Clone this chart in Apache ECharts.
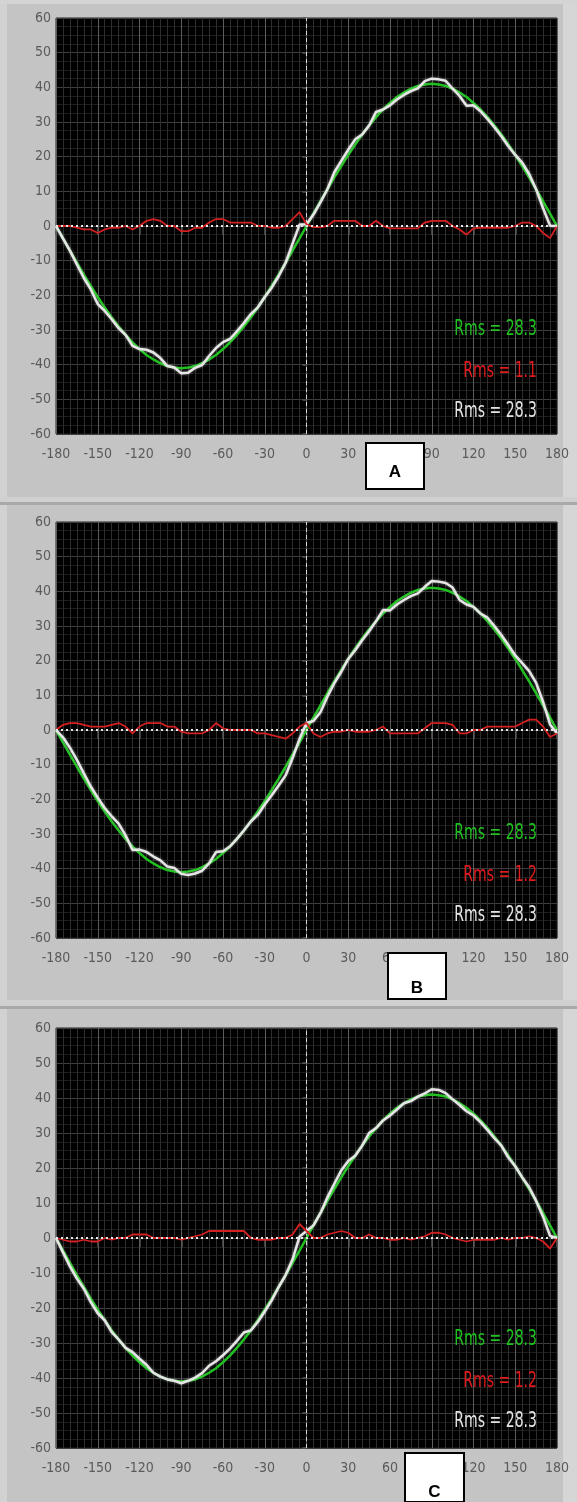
<!DOCTYPE html>
<html><head><meta charset="utf-8">
<script src="https://cdn.jsdelivr.net/npm/echarts@6/dist/echarts.min.js"></script>
<style>html,body{margin:0;padding:0;background:#c6c6c6}#c{width:577px;height:1502px}</style>
</head><body><div id="c"></div>
<script>
// Angle (degrees) sampled every 5°
const degs = [-180,-175,-170,-165,-160,-155,-150,-145,-140,-135,-130,-125,-120,-115,-110,-105,-100,-95,-90,-85,-80,-75,-70,-65,-60,-55,-50,-45,-40,-35,-30,-25,-20,-15,-10,-5,0,5,10,15,20,25,30,35,40,45,50,55,60,65,70,75,80,85,90,95,100,105,110,115,120,125,130,135,140,145,150,155,160,165,170,175,180];
// Reference (green) curve
const green = [0,-3.6,-7.1,-10.6,-14.0,-17.3,-20.5,-23.5,-26.4,-29.0,-31.4,-33.6,-35.5,-37.2,-38.5,-39.6,-40.4,-40.8,-41.0,-40.8,-40.4,-39.6,-38.5,-37.2,-35.5,-33.6,-31.4,-29.0,-26.4,-23.5,-20.5,-17.3,-14.0,-10.6,-7.1,-3.6,0,3.6,7.1,10.6,14.0,17.3,20.5,23.5,26.4,29.0,31.4,33.6,35.5,37.2,38.5,39.6,40.4,40.8,41.0,40.8,40.4,39.6,38.5,37.2,35.5,33.6,31.4,29.0,26.4,23.5,20.5,17.3,14.0,10.6,7.1,3.6,0];
// Panel A
const whiteA = [0,-3.6,-7.1,-11.1,-15,-18.3,-22.5,-24.5,-26.9,-29.5,-31.4,-34.6,-35.5,-35.7,-36.5,-38.1,-40.4,-40.8,-42.5,-42.3,-40.9,-40.1,-37.5,-35.2,-33.5,-32.6,-30.4,-28,-25.4,-23.5,-20.5,-17.8,-14.5,-10.6,-5.1,0.4,0.5,3.3,6.8,10.6,15.5,18.8,22,25,26.4,29,32.9,33.6,34.8,36.5,37.8,38.9,39.7,41.8,42.5,42.3,41.9,39.6,37.5,34.7,34.8,33.1,30.9,28.5,25.9,23,20.5,18.3,15,10.6,5.1,0.1,0];
const redA = [0,0,0,-0.5,-1,-1,-2,-1,-0.5,-0.5,0,-1,0,1.5,2,1.5,0,0,-1.5,-1.5,-0.5,-0.5,1,2,2,1,1,1,1,0,0,-0.5,-0.5,0,2,4,0.5,-0.3,-0.3,0,1.5,1.5,1.5,1.5,0,0,1.5,0,-0.7,-0.7,-0.7,-0.7,-0.7,1,1.5,1.5,1.5,0,-1,-2.5,-0.7,-0.5,-0.5,-0.5,-0.5,-0.5,0,1,1,0,-2,-3.5,0];
// Panel B
const whiteB = [0,-2.1,-5.1,-8.6,-12.5,-16.3,-19.5,-22.5,-24.9,-27,-30.4,-34.6,-34.5,-35.2,-36.5,-37.6,-39.4,-39.8,-41.5,-41.8,-41.4,-40.6,-38.5,-35.2,-35,-33.6,-31.4,-29,-26.4,-24.5,-21.5,-18.8,-16,-13.1,-8.1,-2.6,2,2.6,5.1,9.6,13.5,16.8,20.5,23,25.9,28.5,31.4,34.6,34.5,36.2,37.5,38.6,39.4,41.3,43,42.8,42.4,41.1,37.5,36.2,35.5,33.6,32.4,30,27.4,24.5,21.5,19.3,17,13.6,8.1,1.6,-1];
const redB = [0,1.5,2,2,1.5,1,1,1,1.5,2,1,-1,1,2,2,2,1,1,-0.5,-1,-1,-1,0,2,0.5,0,0,0,0,-1,-1,-1.5,-2,-2.5,-1,1,2,-1,-2,-1,-0.5,-0.5,0,-0.5,-0.5,-0.5,0,1,-1,-1,-1,-1,-1,0.5,2,2,2,1.5,-1,-1,0,0,1,1,1,1,1,2,3,3,1,-2,-1];
// Panel C
const whiteC = [0,-4.1,-8.1,-11.6,-14.5,-18.3,-21.5,-23.5,-26.9,-29,-31.4,-32.6,-34.5,-36.2,-38.5,-39.6,-40.4,-40.8,-41.5,-40.8,-39.9,-38.6,-36.5,-35.2,-33.5,-31.6,-29.4,-27,-26.4,-24,-21,-17.8,-14,-10.6,-6.1,0.4,2,3.6,7.1,11.6,15.5,19.3,22,23.5,26.4,30,31.4,33.6,35,36.7,38.5,39.1,40.4,41.3,42.5,42.3,41.4,39.6,38,36.2,35,33.1,30.9,28.5,26.4,23,20.5,17.3,14.5,10.6,6.1,0.6,0];
const redC = [0,-0.5,-1,-1,-0.5,-1,-1,0,-0.5,0,0,1,1,1,0,0,0,0,-0.5,0,0.5,1,2,2,2,2,2,2,0,-0.5,-0.5,-0.5,0,0,1,4,2,0,0,1,1.5,2,1.5,0,0,1,0,0,-0.5,-0.5,0,-0.5,0,0.5,1.5,1.5,1,0,-0.5,-1,-0.5,-0.5,-0.5,-0.5,0,-0.5,0,0,0.5,0,-1,-3,0];
// Axis ticks
const xTicks = [-180,-150,-120,-90,-60,-30,0,30,60,90,120,150,180];
const yTicks = [-60,-50,-40,-30,-20,-10,0,10,20,30,40,50,60];
const panelLabels = ['A','B','C'];
const rmsGreen = ['Rms = 28.3','Rms = 28.3','Rms = 28.3'];
const rmsRed = ['Rms = 1.1','Rms = 1.2','Rms = 1.2'];
const rmsWhite = ['Rms = 28.3','Rms = 28.3','Rms = 28.3'];

const panels = [
  {top:18, height:416, white:whiteA, red:redA, box:[366,443,58,46], lblY:472},
  {top:522, height:416, white:whiteB, red:redB, box:[388,953,58,46], lblY:988},
  {top:1028, height:420, white:whiteC, red:redC, box:[405,1453,59,60], lblY:1492}
];
const FONT = '"Liberation Sans Narrow","DejaVu Sans Condensed",sans-serif';
const pair = a => degs.map((d,i)=>[d,a[i]]);

const grids=[], xAxes=[], yAxes=[], series=[], graphics=[];
graphics.push({type:'rect',shape:{x:0,y:0,width:577,height:1502},style:{fill:'#c4c4c4'},z:-10});
graphics.push({type:'rect',shape:{x:0,y:0,width:7,height:1502},style:{fill:'#d2d2d2'},z:-9});
graphics.push({type:'rect',shape:{x:563,y:0,width:14,height:1502},style:{fill:'#d6d6d6'},z:-9});
graphics.push({type:'rect',shape:{x:0,y:0,width:577,height:4},style:{fill:'#d4d4d4'},z:-9});
[[497,505],[1000,1009]].forEach(([a,b])=>{
  graphics.push({type:'rect',shape:{x:0,y:a,width:577,height:b-a},style:{fill:'#d0d0d0'},z:-8});
  graphics.push({type:'rect',shape:{x:0,y:b-3,width:577,height:3},style:{fill:'#a9a9a9'},z:-8});
});

panels.forEach((p,k)=>{
  grids.push({left:56, top:p.top, width:501, height:p.height, show:true, backgroundColor:'#000', borderColor:'#222', borderWidth:1});
  xAxes.push({type:'value', gridIndex:k, min:-180, max:180, interval:30,
    axisLine:{show:false},
    axisTick:{show:true, length:9, lineStyle:{color:'#555', width:1.5}},
    axisLabel:{color:'#5a5a5a', fontFamily:FONT, fontSize:14, margin:13, formatter:v=>xTicks.includes(v)?String(v):''},
    splitLine:{show:true, lineStyle:{color:'#5c5c5c', width:1}},
    minorTick:{show:false, splitNumber:6},
    minorSplitLine:{show:true, lineStyle:{color:'#2e2e2e', width:1}}
  });
  yAxes.push({type:'value', gridIndex:k, min:-60, max:60, interval:10,
    axisLine:{show:false},
    axisTick:{show:true, length:4, lineStyle:{color:'#555', width:1.5}},
    axisLabel:{color:'#5a5a5a', fontFamily:FONT, fontSize:14, margin:5, formatter:v=>yTicks.includes(v)?String(v):''},
    splitLine:{show:true, lineStyle:{color:'#3e3e3e', width:1}},
    minorTick:{show:false, splitNumber:4},
    minorSplitLine:{show:true, lineStyle:{color:'#1e1e1e', width:1}}
  });
  series.push({type:'line', xAxisIndex:k, yAxisIndex:k, data:pair(green), symbol:'none', z:3,
    lineStyle:{color:'#20c020', width:2.5},
    markLine:{silent:true, symbol:'none', label:{show:false}, z:2,
      data:[{xAxis:0, lineStyle:{color:'#d8d8d8', type:[4,3], width:1}}]}
  });
  series.push({type:'line', xAxisIndex:k, yAxisIndex:k, data:pair(p.white), symbol:'none', z:4,
    lineStyle:{color:'#e6e6e6', width:2.5, shadowColor:'rgba(255,255,255,0.5)', shadowBlur:3}});
  series.push({type:'line', xAxisIndex:k, yAxisIndex:k, data:pair(p.red), symbol:'none', z:5,
    lineStyle:{color:'#d42020', width:1.8},
    markLine:{silent:true, symbol:'none', label:{show:false}, z:6,
      data:[{yAxis:0, lineStyle:{color:'#e8e8e8', type:[2,3], width:2}}]}
  });
  const ty = p.top;
  [[rmsGreen[k],'#1fc01f',312],[rmsRed[k],'#e01a1a',354],[rmsWhite[k],'#e4e4e4',394]].forEach(([t,c,dy])=>{
    graphics.push({type:'text', z:20, x:537, y:ty+dy, scaleX:0.78, scaleY:1.05,
      style:{text:t, x:0, y:0, align:'right', verticalAlign:'middle', fill:c, font:'20px '+FONT}});
  });
  const [bx,by,bw,bh]=p.box;
  graphics.push({type:'rect', z:30, shape:{x:bx,y:by,width:bw,height:Math.min(bh,1502-by)}, style:{fill:'#fff', stroke:'#000', lineWidth:2}});
  graphics.push({type:'text', z:31, style:{text:panelLabels[k], x:bx+bw/2, y:p.lblY, align:'center', verticalAlign:'middle',
    fill:'#000', font:'bold 17px "Liberation Sans",Arial,sans-serif'}});
});

const chart = echarts.init(document.getElementById('c'), null, {renderer:'canvas'});
chart.setOption({animation:false, backgroundColor:'#c4c4c4', grid:grids, xAxis:xAxes, yAxis:yAxes, series:series, graphic:graphics});
</script></body></html>
